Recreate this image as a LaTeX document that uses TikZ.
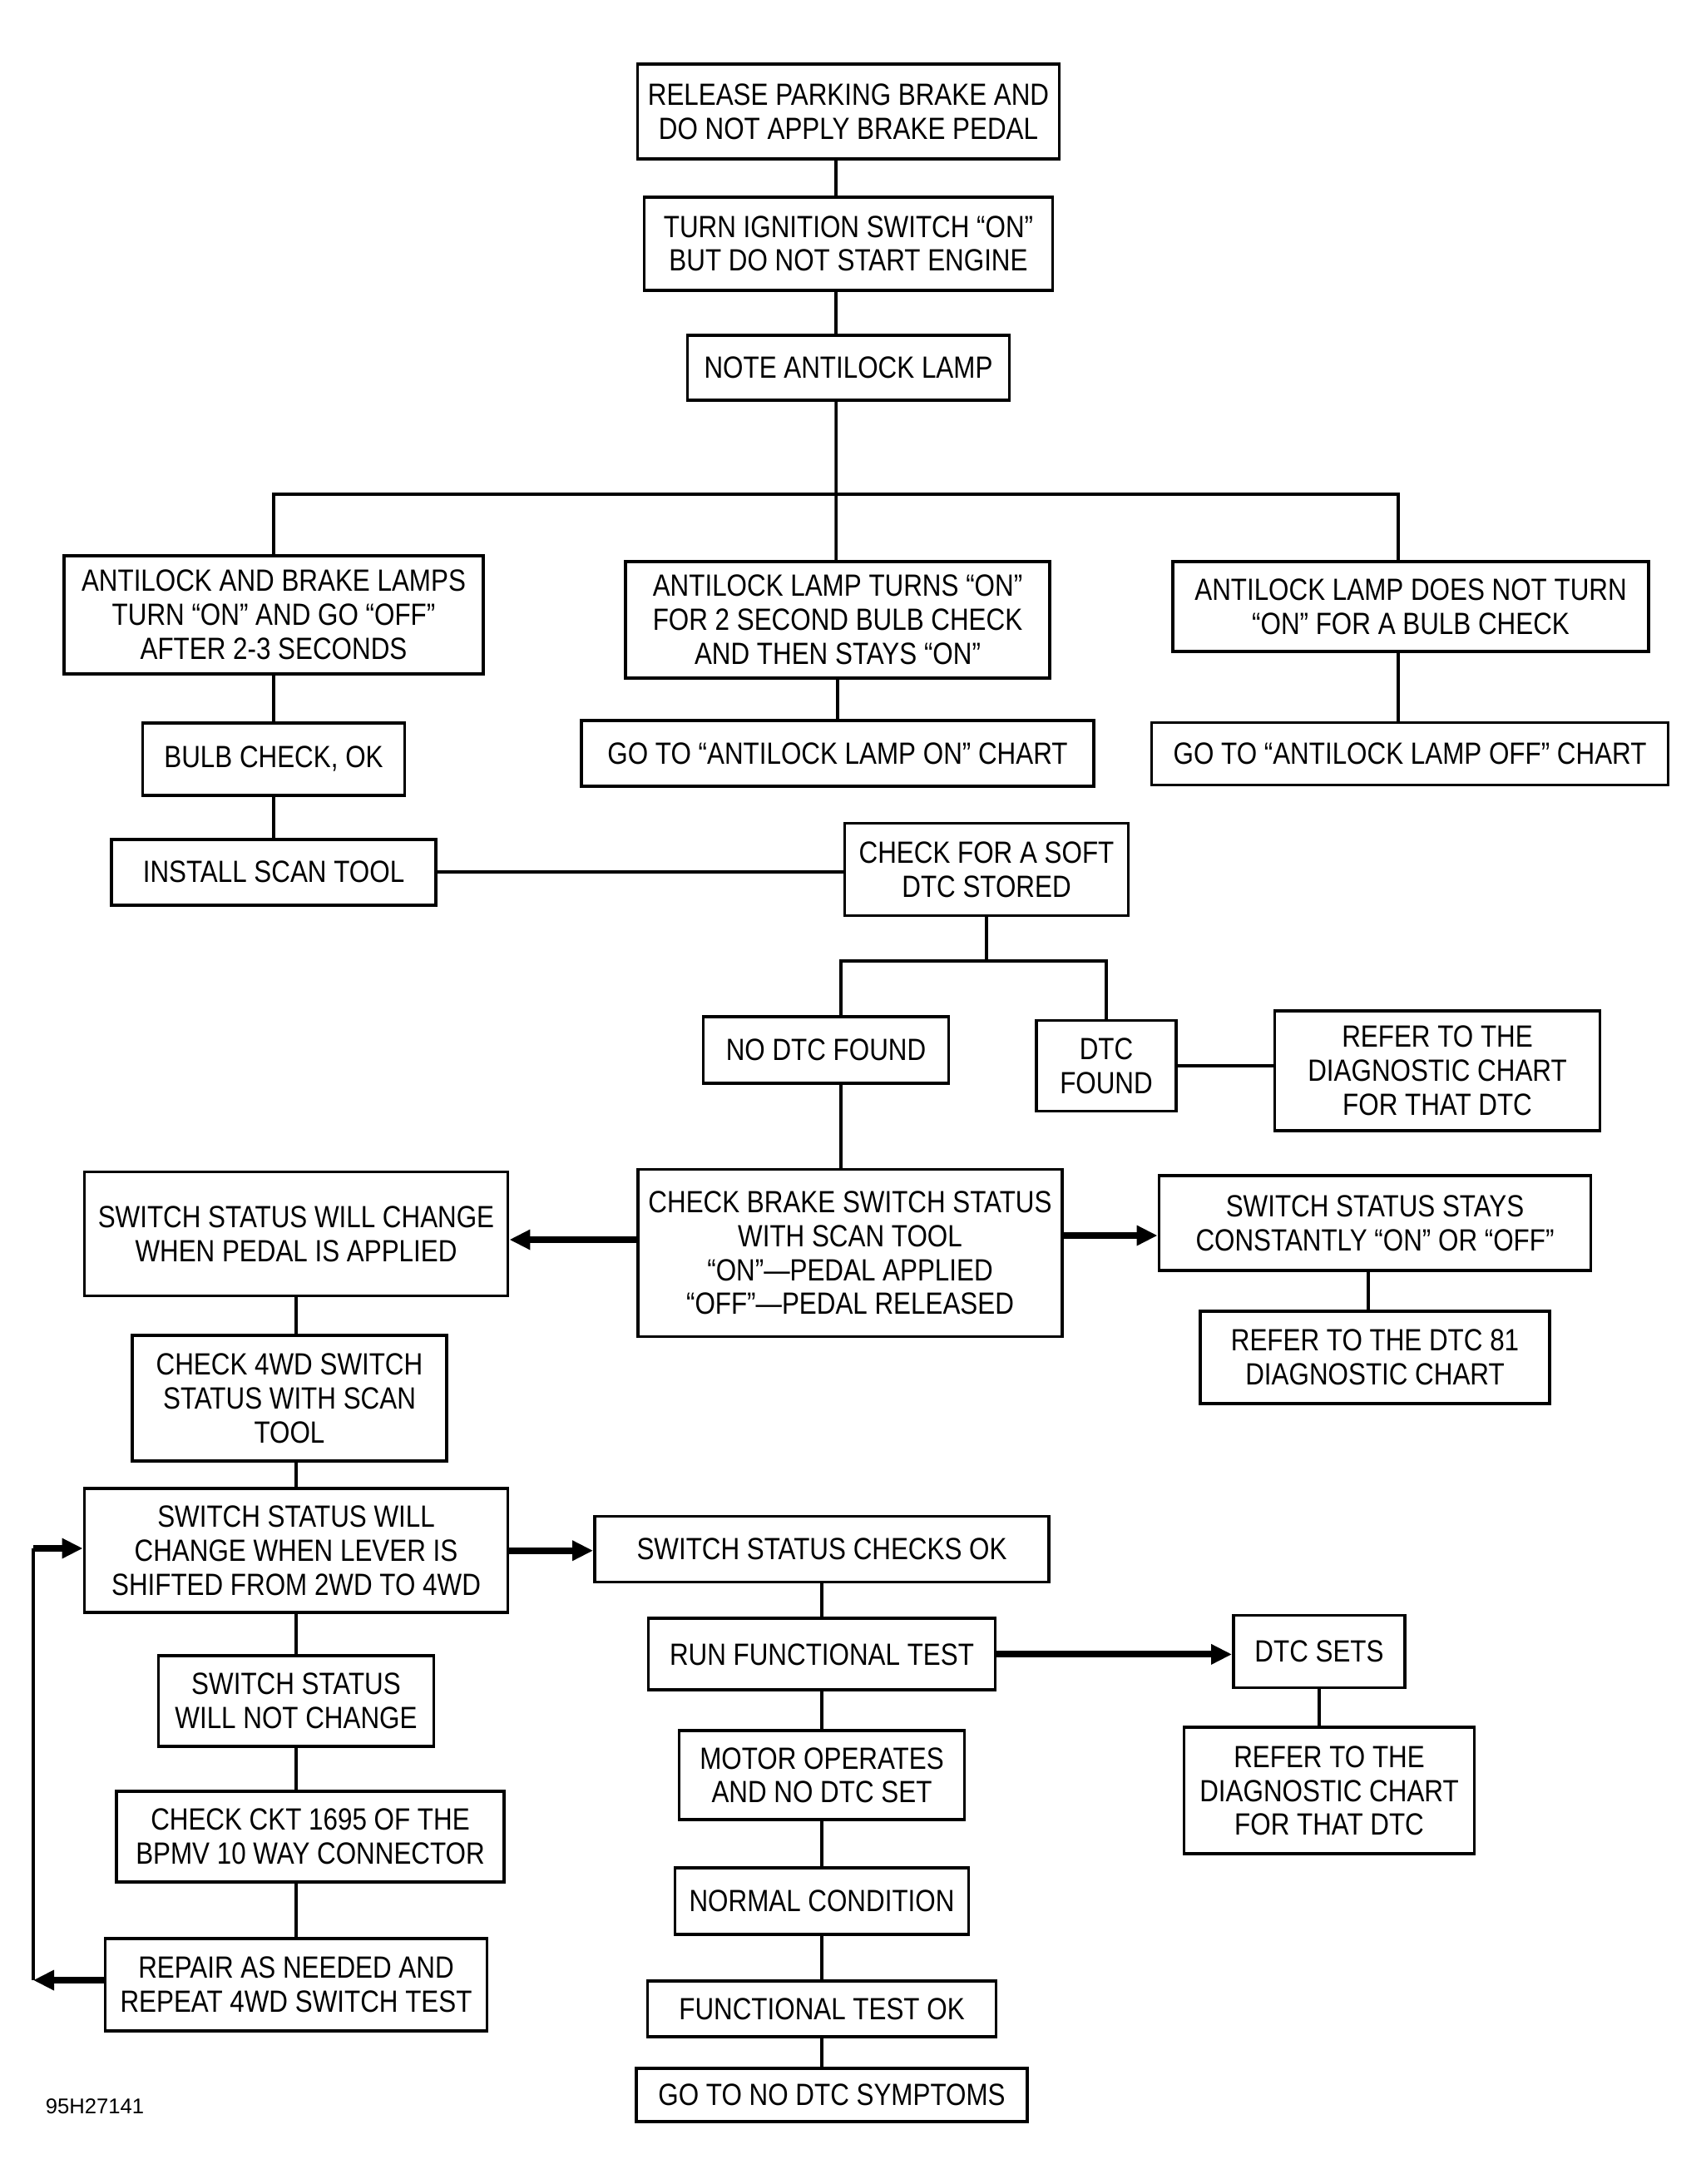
\documentclass[tikz,border=0pt]{standalone}
\usepackage{fontspec}
\setmainfont{Liberation Sans}[FakeStretch=0.85]
\newfontfamily\plainfont{Liberation Sans}
\usetikzlibrary{arrows.meta,positioning}

\begin{document}
\begin{tikzpicture}[>={Triangle[length=2.5mm,width=2.3mm]},
    every node/.style={font=\fontsize{10.5}{11.6}\selectfont},
    box/.style={draw,line width=1.1pt,align=center,inner sep=0pt},
    line/.style={line width=1pt},
    fat/.style={->,line width=2.3pt}]
  \useasboundingbox (0,0) rectangle (20.44,-26.25);

  % top column
  \node[box,minimum width=5.07cm,minimum height=1.14cm] (rel) at (10.2,-1.34) {RELEASE PARKING BRAKE AND\\DO NOT APPLY BRAKE PEDAL};
  \node[box,minimum width=4.91cm,minimum height=1.12cm] (ign) [below=0.42cm of rel] {TURN IGNITION SWITCH “ON”\\BUT DO NOT START ENGINE};
  \node[box,minimum width=3.87cm,minimum height=0.78cm] (note) [below=0.50cm of ign] {NOTE ANTILOCK LAMP};
  \coordinate (split) at (10.05,-5.94);

  % lamp branches
  \node[box,minimum width=5.04cm,minimum height=1.42cm] (lampA) at (3.29,-7.39) {ANTILOCK AND BRAKE LAMPS\\TURN “ON” AND GO “OFF”\\AFTER 2-3 SECONDS};
  \node[box,minimum width=5.10cm,minimum height=1.40cm] (lampB) at (10.07,-7.45) {ANTILOCK LAMP TURNS “ON”\\FOR 2 SECOND BULB CHECK\\AND THEN STAYS “ON”};
  \node[box,minimum width=5.72cm,minimum height=1.08cm] (lampC) at (16.96,-7.29) {ANTILOCK LAMP DOES NOT TURN\\“ON” FOR A BULB CHECK};
  \node[box,minimum width=3.15cm,minimum height=0.87cm] (bulb) [below=0.55cm of lampA] {BULB CHECK, OK};
  \node[box,minimum width=3.90cm,minimum height=0.79cm] (scan) [below=0.49cm of bulb] {INSTALL SCAN TOOL};
  \node[box,minimum width=6.16cm,minimum height=0.79cm] (goOn) [below=0.47cm of lampB] {GO TO “ANTILOCK LAMP ON” CHART};
  \node[box,minimum width=6.21cm,minimum height=0.75cm] (goOff) at (16.95,-9.06) {GO TO “ANTILOCK LAMP OFF” CHART};

  % soft dtc
  \node[box,minimum width=3.41cm,minimum height=1.11cm] (soft) at (11.86,-10.45) {CHECK FOR A SOFT\\DTC STORED};
  \coordinate (split2) at (11.8,-11.55);
  \node[box,minimum width=2.95cm,minimum height=0.80cm] (noDtc) at (9.93,-12.62) {NO DTC FOUND};
  \node[box,minimum width=1.68cm,minimum height=1.09cm] (dtc) at (13.30,-12.81) {DTC\\FOUND};
  \node[box,minimum width=3.91cm,minimum height=1.44cm] (refA) at (17.28,-12.87) {REFER TO THE\\DIAGNOSTIC CHART\\FOR THAT DTC};

  % brake switch
  \node[box,minimum width=5.10cm,minimum height=2.01cm] (brk) at (10.22,-15.06) {CHECK BRAKE SWITCH STATUS\\WITH SCAN TOOL\\“ON”—PEDAL APPLIED\\“OFF”—PEDAL RELEASED};
  \node[box,minimum width=5.09cm,minimum height=1.49cm] (sw1) at (3.56,-14.83) {SWITCH STATUS WILL CHANGE\\WHEN PEDAL IS APPLIED};
  \node[box,minimum width=5.19cm,minimum height=1.14cm] (sty) at (16.53,-14.70) {SWITCH STATUS STAYS\\CONSTANTLY “ON” OR “OFF”};
  \node[box,minimum width=4.20cm,minimum height=1.11cm] (dtc81) [below=0.45cm of sty] {REFER TO THE DTC 81\\DIAGNOSTIC CHART};
  \coordinate (armL) at (6.6,-14.90);
  \coordinate (armR) at (13.9,-14.85);

  % 4wd switch column
  \node[box,minimum width=3.78cm,minimum height=1.51cm] (fwd) [below=0.44cm of sw1,xshift=-0.8mm] {CHECK 4WD SWITCH\\STATUS WITH SCAN\\TOOL};
  \node[box,minimum width=5.09cm,minimum height=1.49cm] (sw2) [below=0.29cm of fwd,xshift=0.8mm] {SWITCH STATUS WILL\\CHANGE WHEN LEVER IS\\SHIFTED FROM 2WD TO 4WD};
  \node[box,minimum width=3.31cm,minimum height=1.09cm] (sw3) [below=0.48cm of sw2] {SWITCH STATUS\\WILL NOT CHANGE};
  \node[box,minimum width=4.66cm,minimum height=1.09cm] (ckt) [below=0.50cm of sw3,xshift=1.7mm] {CHECK CKT 1695 OF THE\\BPMV 10 WAY CONNECTOR};
  \node[box,minimum width=4.59cm,minimum height=1.11cm] (rep) [below=0.64cm of ckt,xshift=-1.7mm] {REPAIR AS NEEDED AND\\REPEAT 4WD SWITCH TEST};
  \coordinate (loopB) at (0.40,-23.80);
  \coordinate (loopT) at (0.40,-18.61);

  % functional test column
  \node[box,minimum width=5.46cm,minimum height=0.79cm] (chk) at (9.88,-18.62) {SWITCH STATUS CHECKS OK};
  \node[box,minimum width=4.17cm,minimum height=0.86cm] (run) [below=0.40cm of chk] {RUN FUNCTIONAL TEST};
  \node[box,minimum width=3.43cm,minimum height=1.07cm] (mot) [below=0.45cm of run] {MOTOR OPERATES\\AND NO DTC SET};
  \node[box,minimum width=3.53cm,minimum height=0.80cm] (norm) [below=0.54cm of mot] {NORMAL CONDITION};
  \node[box,minimum width=4.19cm,minimum height=0.67cm] (fok) [below=0.52cm of norm] {FUNCTIONAL TEST OK};
  \node[box,minimum width=4.70cm,minimum height=0.64cm] (none) [below=0.34cm of fok,xshift=1.2mm] {GO TO NO DTC SYMPTOMS};
  \node[box,minimum width=2.06cm,minimum height=0.87cm] (sets) at (15.86,-19.85) {DTC SETS};
  \node[box,minimum width=3.49cm,minimum height=1.52cm] (refB) [below=0.44cm of sets,xshift=1.2mm] {REFER TO THE\\DIAGNOSTIC CHART\\FOR THAT DTC};

  \node[font=\plainfont\fontsize{7.3}{8}\selectfont] (fig) at (1.14,-25.32) {95H27141};

  % connectors
  \draw[line] ([xshift=-1.5mm]rel.south) -- ([xshift=-1.5mm]ign.north);
  \draw[line] ([xshift=-1.5mm]ign.south) -- ([xshift=-1.5mm]note.north);
  \draw[line] ([xshift=-1.5mm]note.south) -- (split) -- (split |- lampB.north);
  \draw[line] (lampA.north) |- (split) -| ([xshift=-1.5mm]lampC.north);
  \draw[line] (lampA.south) -- (lampA.south |- bulb.north);
  \draw[line] (bulb) -- (scan);
  \draw[line] (lampB) -- (goOn);
  \draw[line] ([xshift=-1.5mm]lampC.south) -- ([xshift=-1.5mm]lampC.south |- goOff.north);
  \draw[line] (scan) -- (scan -| soft.west);
  \draw[line] (soft.south) -- (soft.south |- split2);
  \draw[line] ([xshift=1.8mm]noDtc.north) |- (split2) -| (dtc.north);
  \draw[line] (dtc) -- (dtc -| refA.west);
  \draw[line] ([xshift=1.8mm]noDtc.south) -- ([xshift=1.8mm]noDtc.south |- brk.north);
  \draw[fat] (brk.west |- armL) -- (sw1.east |- armL);
  \draw[fat] (brk.east |- armR) -- (sty.west |- armR);
  \draw[line] ([xshift=-0.8mm]sty.south) -- ([xshift=-0.8mm]sty.south |- dtc81.north);
  \draw[line] (sw1.south) -- (sw1.south |- fwd.north);
  \draw[line] (sw2.north |- fwd.south) -- (sw2.north);
  \draw[fat] (sw2) -- (sw2 -| chk.west);
  \draw[line] (sw2) -- (sw3);
  \draw[line] (sw3.south) -- (sw3.south |- ckt.north);
  \draw[line] (ckt.south -| rep.north) -- (rep.north);
  \draw[fat] (rep.west |- loopB) -- (loopB);
  \draw[line] (loopB) -- (loopT);
  \draw[fat] (loopT) -- (sw2.west |- loopT);
  \draw[line] (chk) -- (run);
  \draw[fat] (run) -- (run -| sets.west);
  \draw[line] (sets.south) -- (sets.south |- refB.north);
  \draw[line] (run) -- (mot);
  \draw[line] (mot) -- (norm);
  \draw[line] (norm) -- (fok);
  \draw[line] (fok.south) -- (fok.south |- none.north);
\end{tikzpicture}
\end{document}
